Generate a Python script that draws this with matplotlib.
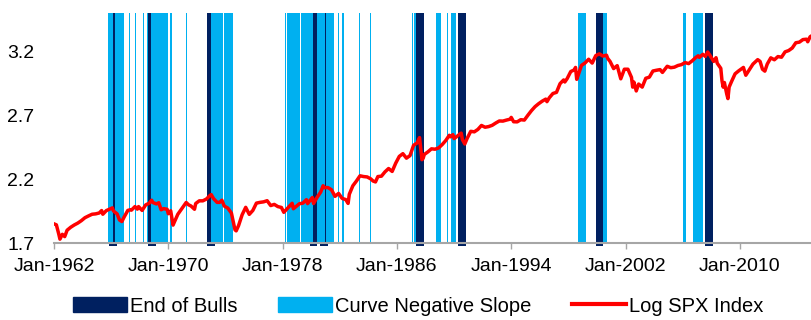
import matplotlib
matplotlib.use("Agg")
import matplotlib.pyplot as plt
from matplotlib.patches import Patch
from matplotlib.lines import Line2D

plt.rcParams["font.family"] = ["Liberation Sans", "DejaVu Sans"]

# Log10 du S&P 500 (mois, valeur)
spx_mois = [
    "1962-01", "1962-03", "1962-05", "1962-06", "1962-08", "1962-10", "1962-12",
    "1963-03", "1963-06", "1963-09", "1963-12", "1964-03", "1964-06", "1964-09",
    "1964-12", "1965-03", "1965-05", "1965-06", "1965-09", "1965-12", "1966-02",
    "1966-03", "1966-05", "1966-06", "1966-08", "1966-10", "1966-12", "1967-03",
    "1967-05", "1967-06", "1967-09", "1967-11", "1967-12", "1968-03", "1968-06",
    "1968-09", "1968-11", "1968-12", "1969-03", "1969-05", "1969-07", "1969-09",
    "1969-12", "1970-01", "1970-03", "1970-05", "1970-06", "1970-09", "1970-12",
    "1971-04", "1971-06", "1971-08", "1971-11", "1971-12", "1972-03", "1972-06",
    "1972-09", "1972-12", "1973-01", "1973-03", "1973-06", "1973-08", "1973-10",
    "1973-12", "1974-03", "1974-06", "1974-09", "1974-10", "1974-12", "1975-03",
    "1975-06", "1975-09", "1975-12", "1976-03", "1976-06", "1976-09", "1976-12",
    "1977-03", "1977-06", "1977-09", "1977-12", "1978-02", "1978-03", "1978-06",
    "1978-09", "1978-10", "1978-12", "1979-03", "1979-06", "1979-09", "1979-10",
    "1979-12", "1980-02", "1980-03", "1980-06", "1980-09", "1980-11", "1980-12",
    "1981-03", "1981-06", "1981-09", "1981-12", "1982-03", "1982-06", "1982-08",
    "1982-09", "1982-12", "1983-03", "1983-06", "1983-09", "1983-12", "1984-03",
    "1984-05", "1984-07", "1984-09", "1984-12", "1985-03", "1985-06", "1985-09",
    "1985-12", "1986-03", "1986-06", "1986-09", "1986-12", "1987-03", "1987-06",
    "1987-08", "1987-10", "1987-11", "1987-12", "1988-03", "1988-06", "1988-09",
    "1988-12", "1989-03", "1989-06", "1989-09", "1989-10", "1989-12", "1990-01",
    "1990-03", "1990-06", "1990-07", "1990-08", "1990-10", "1990-12", "1991-03",
    "1991-06", "1991-09", "1991-12", "1992-03", "1992-06", "1992-09", "1992-12",
    "1993-03", "1993-06", "1993-09", "1993-12", "1994-01", "1994-03", "1994-06",
    "1994-09", "1994-12", "1995-03", "1995-06", "1995-09", "1995-12", "1996-03",
    "1996-06", "1996-07", "1996-09", "1996-12", "1997-03", "1997-06", "1997-09",
    "1997-10", "1997-12", "1998-03", "1998-06", "1998-07", "1998-08", "1998-09",
    "1998-12", "1999-03", "1999-06", "1999-09", "1999-12", "2000-03", "2000-06",
    "2000-09", "2000-10", "2000-12", "2001-03", "2001-06", "2001-09", "2001-12",
    "2002-03", "2002-06", "2002-07", "2002-08", "2002-10", "2002-12", "2003-03",
    "2003-06", "2003-09", "2003-12", "2004-03", "2004-06", "2004-08", "2004-12",
    "2005-03", "2005-06", "2005-09", "2005-12", "2006-03", "2006-06", "2006-09",
    "2006-12", "2007-02", "2007-03", "2007-06", "2007-08", "2007-10", "2007-12",
    "2008-03", "2008-05", "2008-06", "2008-09", "2008-10", "2008-11", "2008-12",
    "2009-02", "2009-03", "2009-04", "2009-06", "2009-09", "2009-12", "2010-04",
    "2010-06", "2010-09", "2010-12", "2011-04", "2011-06", "2011-08", "2011-10",
    "2011-12", "2012-03", "2012-06", "2012-09", "2012-12", "2013-03", "2013-06",
    "2013-09", "2013-12", "2014-03", "2014-06", "2014-09", "2014-10", "2014-12",
    "2015-01", "2015-02",
]
spx_log = [
    1.850, 1.842, 1.770, 1.730, 1.768, 1.750, 1.800,
    1.823, 1.841, 1.856, 1.875, 1.898, 1.912, 1.925,
    1.928, 1.935, 1.954, 1.925, 1.954, 1.966, 1.975,
    1.950, 1.935, 1.928, 1.880, 1.868, 1.905, 1.955,
    1.960, 1.957, 1.985, 1.965, 1.985, 1.955, 1.998,
    2.012, 2.035, 2.017, 2.006, 2.015, 1.960, 1.969,
    1.964, 1.929, 1.952, 1.840, 1.862, 1.925, 1.965,
    2.017, 1.999, 1.990, 1.964, 2.009, 2.030, 2.030,
    2.044, 2.072, 2.079, 2.047, 2.018, 2.018, 2.035,
    1.989, 1.973, 1.934, 1.803, 1.795, 1.836, 1.921,
    1.979, 1.924, 1.955, 2.012, 2.018, 2.022, 2.031,
    1.993, 2.002, 1.985, 1.978, 1.940, 1.950, 1.980,
    2.011, 1.968, 1.983, 2.007, 2.012, 2.039, 2.008,
    2.033, 2.056, 2.009, 2.058, 2.099, 2.148, 2.133,
    2.134, 2.117, 2.065, 2.088, 2.049, 2.040, 2.010,
    2.081, 2.148, 2.185, 2.226, 2.220, 2.217, 2.202,
    2.185, 2.178, 2.220, 2.223, 2.257, 2.283, 2.260,
    2.325, 2.378, 2.399, 2.364, 2.384, 2.465, 2.483,
    2.525, 2.352, 2.362, 2.393, 2.413, 2.437, 2.434,
    2.444, 2.470, 2.502, 2.543, 2.531, 2.548, 2.517,
    2.531, 2.554, 2.560, 2.509, 2.475, 2.519, 2.574,
    2.570, 2.589, 2.620, 2.606, 2.611, 2.621, 2.639,
    2.655, 2.654, 2.662, 2.669, 2.683, 2.649, 2.648,
    2.665, 2.662, 2.700, 2.736, 2.767, 2.790, 2.810,
    2.826, 2.806, 2.837, 2.870, 2.879, 2.947, 2.976,
    2.960, 2.987, 3.042, 3.055, 3.074, 2.981, 3.007,
    3.090, 3.109, 3.138, 3.108, 3.167, 3.180, 3.163,
    3.170, 3.145, 3.121, 3.065, 3.088, 2.985, 3.060,
    3.060, 2.996, 2.920, 2.960, 2.890, 2.944, 2.920,
    2.989, 2.998, 3.046, 3.052, 3.057, 3.035, 3.083,
    3.072, 3.076, 3.089, 3.096, 3.112, 3.104, 3.126,
    3.152, 3.165, 3.153, 3.177, 3.160, 3.195, 3.167,
    3.121, 3.150, 3.107, 3.067, 2.970, 2.920, 2.956,
    2.866, 2.830, 2.920, 2.963, 3.024, 3.047, 3.074,
    3.013, 3.057, 3.100, 3.135, 3.121, 3.060, 3.045,
    3.100, 3.149, 3.134, 3.159, 3.154, 3.196, 3.206,
    3.226, 3.267, 3.272, 3.292, 3.295, 3.275, 3.314,
    3.320, 3.322,
]

# Fins de marchés haussiers (années décimales, début / fin)
fin_bull_debut = [1965.88, 1968.61, 1972.74, 1979.89, 1980.64, 1987.37, 1990.26, 1999.96, 2007.55]
fin_bull_fin = [1966.39, 1969.13, 1973.28, 1980.41, 1981.15, 1987.93, 1990.85, 2000.45, 2008.09]

# Courbe des taux inversée
inv_debut = [1965.81, 1966.27, 1967.26, 1967.68, 1968.24, 1968.52, 1968.78, 1969.45,
             1970.15, 1971.21, 1972.98, 1973.90, 1978.18, 1978.33, 1979.27, 1979.80,
             1980.41, 1981.06, 1981.89, 1982.18, 1983.36, 1984.12, 1987.06, 1987.22,
             1988.73, 1989.48, 1989.80, 1998.67, 2000.45, 2006.03, 2006.71]
inv_fin = [1966.16, 1966.90, 1967.34, 1967.76, 1968.32, 1968.60, 1969.40, 1969.97,
           1970.23, 1971.30, 1973.85, 1974.56, 1978.26, 1979.22, 1979.75, 1980.10,
           1980.99, 1981.62, 1981.98, 1982.27, 1983.44, 1984.20, 1987.14, 1987.37,
           1989.10, 1989.56, 1990.10, 1999.21, 2000.73, 2006.22, 2007.39]

annees_ticks = [1962, 1970, 1978, 1986, 1994, 2002, 2010]

SOMBRE = "#002060"
CLAIR = "#00B0F0"
ROUGE = "#FF0000"
GRIS = "#A6A6A6"

x_spx = [int(m[:4]) + (int(m[5:]) - 1) / 12 for m in spx_mois]

fig = plt.figure(figsize=(8.12, 3.2), dpi=100)
ax = fig.add_axes([54 / 812, 77 / 320, 758 / 812, 230 / 320])

for a, b in zip(fin_bull_debut, fin_bull_fin):
    ax.axvspan(a, b, ymin=-0.014, ymax=1, color=SOMBRE, lw=0, zorder=1, clip_on=False)
for a, b in zip(inv_debut, inv_fin):
    ax.axvspan(a, b, color=CLAIR, lw=0, zorder=2)

ax.plot(x_spx, spx_log, color=ROUGE, lw=2.5, zorder=4)

ax.set_xlim(1962.0, 2015.05)
ax.set_ylim(1.7, 3.5)
ax.set_yticks([1.7, 2.2, 2.7, 3.2])
ax.set_xticks(annees_ticks)
ax.set_xticklabels([f"Jan-{a}" for a in annees_ticks])

for s in ("top", "right", "left"):
    ax.spines[s].set_visible(False)
ax.spines["bottom"].set_color(GRIS)
ax.spines["bottom"].set_linewidth(1.5)
ax.spines["bottom"].set_zorder(5)
ax.tick_params(axis="y", length=0, pad=14, labelsize=14)
ax.tick_params(axis="x", length=4, width=1, color=GRIS, pad=7, labelsize=14)

poignees = [
    Patch(facecolor=SOMBRE, edgecolor=SOMBRE),
    Patch(facecolor=CLAIR, edgecolor=CLAIR),
    Line2D([0], [0], color=ROUGE, lw=3),
]
fig.legend(poignees, ["End of Bulls", "Curve Negative Slope", "Log SPX Index"],
           loc="center", bbox_to_anchor=(418 / 812, 14 / 320), ncol=3,
           frameon=False, fontsize=14.5, handlelength=2.7, handleheight=0.8,
           handletextpad=0.15, columnspacing=2.0, borderpad=0)

fig.savefig("out.png", dpi=100)
plt.close(fig)
